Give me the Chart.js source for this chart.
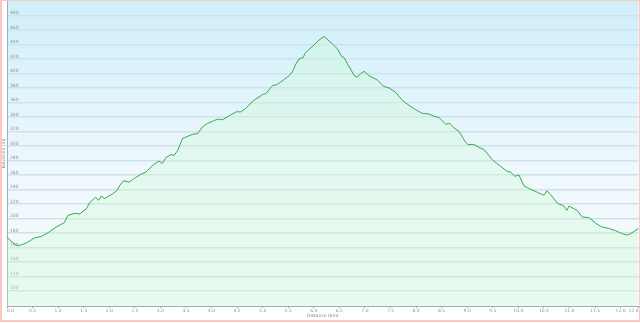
<!DOCTYPE html>
<html>
<head>
<meta charset="utf-8">
<script src="https://cdn.jsdelivr.net/npm/chart.js@4/dist/chart.umd.min.js"></script>
<style>
  html, body { margin: 0; padding: 0; background: #ffffff; }
  #wrap { position: relative; width: 640px; height: 323px; overflow: hidden; }
  #c { position: absolute; left: 0; top: 0; }
  #frame { position: absolute; left: 0; top: 0; width: 640px; height: 322px; box-sizing: border-box;
           border-top: 1px solid #ffc6c6; border-left: 2px solid #ffc6c6; border-right: 1px solid #ffc6c6;
           border-bottom: 2px solid #ffc6c6; pointer-events: none; }
</style>
</head>
<body>
<div id="wrap">
  <canvas id="c" width="640" height="323"></canvas>
  <div id="frame"></div>
</div>
<script>
// ---- data ----
const distanceKm = [0.00, 0.10, 0.21, 0.30, 0.375, 0.54, 0.67, 0.80, 0.96, 1.12, 1.19, 1.32, 1.42, 1.55, 1.62, 1.73, 1.79, 1.85, 1.90, 2.07, 2.16, 2.20, 2.28, 2.39, 2.49, 2.62, 2.72, 2.85, 2.97, 3.04, 3.11, 3.21, 3.27, 3.34, 3.43, 3.56, 3.63, 3.73, 3.82, 3.92, 4.02, 4.12, 4.21, 4.31, 4.48, 4.57, 4.67, 4.83, 5.00, 5.06, 5.19, 5.29, 5.52, 5.58, 5.65, 5.71, 5.79, 5.84, 5.97, 6.10, 6.20, 6.36, 6.46, 6.55, 6.59, 6.66, 6.72, 6.79, 6.85, 6.92, 6.98, 7.08, 7.24, 7.37, 7.47, 7.60, 7.73, 7.86, 7.99, 8.12, 8.25, 8.35, 8.45, 8.58, 8.66, 8.74, 8.84, 8.94, 9.01, 9.13, 9.23, 9.33, 9.49, 9.65, 9.78, 9.85, 9.93, 10.01, 10.11, 10.21, 10.37, 10.43, 10.50, 10.56, 10.63, 10.76, 10.89, 10.95, 10.99, 11.15, 11.25, 11.38, 11.54, 11.64, 11.77, 11.90, 12.02, 12.14, 12.22, 12.35];
const elevationM = [174, 167, 162, 164, 166, 173, 175, 180, 188, 194, 204, 207, 206, 213, 222, 229, 225, 231, 227, 234, 239, 245, 252, 250, 255, 261, 264, 273, 279, 276, 284, 288, 287, 294, 310, 314, 316, 317, 326, 331, 334, 337, 336, 340, 347, 347, 352, 363, 371, 372, 383, 385, 397, 402, 413, 420, 422, 429, 437, 446, 451, 441, 434, 423, 422, 413, 406, 397, 395, 400, 403, 397, 391, 382, 380, 374, 363, 356, 350, 345, 344, 341, 339, 330, 331, 325, 320, 308, 302, 302, 298, 295, 281, 272, 265, 264, 258, 260, 245, 241, 236, 234, 232, 238, 233, 221, 217, 211, 217, 211, 202, 201, 192, 188, 186, 183, 179, 177, 180, 186];
const xTickValues = [0, 0.5, 1, 1.5, 2, 2.5, 3, 3.5, 4, 4.5, 5, 5.5, 6, 6.5, 7, 7.5, 8, 8.5, 9, 9.5, 10, 10.5, 11, 11.5, 12, 12.35];
const xTickLabels = ["0.0", "0.5", "1.0", "1.5", "2.0", "2.5", "3.0", "3.5", "4.0", "4.5", "5.0", "5.5", "6.0", "6.5", "7.0", "7.5", "8.0", "8.5", "9.0", "9.5", "10.0", "10.5", "11.0", "11.5", "12.0", "12.4"];
const yTickValues = [100, 120, 140, 160, 180, 200, 220, 240, 260, 280, 300, 320, 340, 360, 380, 400, 420, 440, 460, 480];
const xTitle = "Distance (km)";
const yTitle = "Elevation (m)";

const points = distanceKm.map((d, i) => ({ x: d, y: elevationM[i] }));

const bgPlugin = {
  id: 'plotBg',
  beforeDraw(chart) {
    const { ctx, chartArea: a } = chart;
    if (!a) return;
    const g = ctx.createLinearGradient(0, a.top, 0, a.bottom);
    g.addColorStop(0, '#cfeffa');
    g.addColorStop(0.55, '#eef8fd');
    g.addColorStop(1, '#f6fbfd');
    ctx.save();
    ctx.fillStyle = g;
    ctx.fillRect(a.left, a.top, a.right - a.left, a.bottom - a.top);
    ctx.restore();
  }
};

const tickFont = { family: 'DejaVu Sans', size: 4.5 };
const tickColor = '#8c9296';

new Chart(document.getElementById('c'), {
  type: 'line',
  data: {
    datasets: [{
      data: points,
      borderColor: '#3aa94c',
      borderWidth: 1,
      backgroundColor: 'rgba(205,250,210,0.32)',
      fill: 'start',
      pointRadius: 0,
      tension: 0
    }]
  },
  options: {
    responsive: false,
    animation: false,
    devicePixelRatio: 1,
    layout: { padding: { left: 0, right: 1.5, top: 1, bottom: 0 } },
    plugins: { legend: { display: false }, tooltip: { enabled: false } },
    scales: {
      x: {
        type: 'linear',
        min: 0,
        max: 12.35,
        afterBuildTicks: (s) => { s.ticks = xTickValues.map(v => ({ value: v })); },
        afterFit: (s) => { s.height = 17; s.paddingLeft = 0; s.paddingRight = 0; },
        ticks: {
          autoSkip: false,
          maxRotation: 0,
          align: 'inner',
          padding: 0,
          color: tickColor,
          font: tickFont,
          callback: (v) => { const i = xTickValues.indexOf(v); return i >= 0 ? xTickLabels[i] : ''; }
        },
        grid: { drawOnChartArea: false, drawTicks: true, tickLength: 2, color: '#9aa3a8' },
        border: { display: true, color: '#a3abaf', width: 1 },
        title: { display: true, text: xTitle, color: '#7d8488', font: tickFont, padding: { top: 0, bottom: 4.3 } }
      },
      y: {
        type: 'linear',
        min: 79,
        max: 500,
        afterBuildTicks: (s) => { s.ticks = yTickValues.map(v => ({ value: v })); },
        afterFit: (s) => { s.width = 7; s.paddingTop = 0; s.paddingBottom = 0; },
        ticks: {
          mirror: true,
          padding: 3,
          labelOffset: -2.5,
          color: tickColor,
          font: tickFont
        },
        grid: { drawTicks: false, color: '#d0e2e9', lineWidth: 1.5 },
        border: { display: true, color: '#a3abaf', width: 1 },
        title: { display: true, text: yTitle, color: '#7d8488', font: tickFont, padding: { top: 1.5, bottom: 0 } }
      }
    }
  },
  plugins: [bgPlugin]
});
</script>
</body>
</html>
